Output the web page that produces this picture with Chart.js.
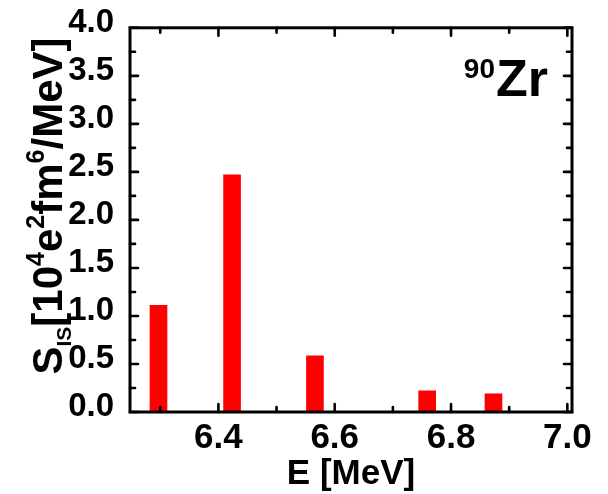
<!DOCTYPE html>
<html>
<head>
<meta charset="utf-8">
<script src="https://cdn.jsdelivr.net/npm/chart.js@4"></script>
<style>
  html, body { margin: 0; padding: 0; background: #ffffff; }
  #wrap { width: 608px; height: 494px; }
</style>
</head>
<body>
<div id="wrap"><canvas id="c" width="608" height="494"></canvas></div>
<script>
// Isoscalar strength distribution of 90Zr: excitation energy (MeV) and strength
const energies  = [6.297, 6.4235, 6.566, 6.759, 6.873];
const strengths = [1.11, 2.47, 0.585, 0.22, 0.19];

// Axis tick values
const xMajorTicks = [6.4, 6.6, 6.8, 7.0];
const xMinorTicks = [6.3, 6.5, 6.7, 6.9];
const yMajorTicks = [0.0, 0.5, 1.0, 1.5, 2.0, 2.5, 3.0, 3.5, 4.0];
const yMinorTicks = [0.25, 0.75, 1.25, 1.75, 2.25, 2.75, 3.25, 3.75];

const FONT = '"Liberation Sans", Arial, sans-serif';

// Closed frame with inward ticks on all four sides
const frameAndTicks = {
  id: 'frameAndTicks',
  afterDatasetsDraw(chart) {
    const { ctx, chartArea: a, scales: { x, y } } = chart;
    const MAJ = 8, MIN = 5;
    ctx.save();
    ctx.strokeStyle = '#000';
    ctx.lineCap = 'round';
    ctx.lineWidth = 2.6;
    const seg = (x1, y1, x2, y2) => { ctx.beginPath(); ctx.moveTo(x1, y1); ctx.lineTo(x2, y2); ctx.stroke(); };
    const xt = (vals, len) => vals.forEach(v => {
      const p = x.getPixelForValue(v);
      seg(p, a.bottom, p, a.bottom - len);
      seg(p, a.top, p, a.top + len);
    });
    const yt = (vals, len) => vals.forEach(v => {
      const p = y.getPixelForValue(v);
      seg(a.left, p, a.left + len, p);
      seg(a.right, p, a.right - len, p);
    });
    xt(xMajorTicks, MAJ); xt(xMinorTicks, MIN);
    yt(yMajorTicks, MAJ); yt(yMinorTicks, MIN);
    ctx.lineCap = 'square';
    ctx.lineWidth = 3;
    ctx.strokeRect(a.left, a.top, a.right - a.left, a.bottom - a.top);
    ctx.restore();
  }
};

// Rotated y-axis title with sub- and superscripts, plus the nucleus label
const annotations = {
  id: 'annotations',
  afterDraw(chart) {
    const { ctx } = chart;
    const BIG = 42, SUP = 25, SUB = 21;
    const parts = [
      ['S', BIG, 0], ['IS', SUB, 9], ['[10', BIG, 0], ['4', SUP, -18],
      ['e', BIG, 0], ['2', SUP, -18], ['fm', BIG, 0], ['6', SUP, -18], ['/MeV]', BIG, 0]
    ];
    ctx.save();
    ctx.fillStyle = '#000';
    ctx.textBaseline = 'alphabetic';
    ctx.textAlign = 'left';
    let total = 0;
    parts.forEach(([t, s]) => { ctx.font = `bold ${s}px ${FONT}`; total += ctx.measureText(t).width; });
    ctx.translate(62, 206 + total / 2);
    ctx.rotate(-Math.PI / 2);
    let cx = 0;
    parts.forEach(([t, s, dy]) => {
      ctx.font = `bold ${s}px ${FONT}`;
      ctx.fillText(t, cx, dy);
      cx += ctx.measureText(t).width;
    });
    ctx.restore();

    ctx.save();
    ctx.fillStyle = '#000';
    ctx.textBaseline = 'alphabetic';
    ctx.textAlign = 'right';
    ctx.font = `bold 28px ${FONT}`;
    ctx.fillText('90', 495, 78);
    ctx.textAlign = 'left';
    ctx.font = `bold 52px ${FONT}`;
    ctx.fillText('Zr', 496, 96);
    ctx.restore();
  }
};

new Chart(document.getElementById('c'), {
  type: 'bar',
  data: {
    datasets: [{
      data: energies.map((e, i) => ({ x: e, y: strengths[i] })),
      backgroundColor: '#ff0000',
      borderWidth: 0,
      barThickness: 17
    }]
  },
  options: {
    responsive: false,
    animation: false,
    devicePixelRatio: 1,
    layout: { padding: { top: 24, right: 36, left: 0, bottom: 0 } },
    plugins: { legend: { display: false }, tooltip: { enabled: false } },
    scales: {
      x: {
        type: 'linear',
        min: 6.248,
        max: 7.008,
        offset: false,
        grid: { display: false },
        border: { display: false },
        afterFit(s) { s.height = 82; },
        afterBuildTicks(s) { s.ticks = xMajorTicks.map(v => ({ value: v })); },
        ticks: {
          padding: -3,
          color: '#000',
          font: { family: FONT, size: 35, weight: 'bold' },
          maxRotation: 0,
          autoSkip: false,
          callback: v => Number(v).toFixed(1)
        },
        title: {
          display: true,
          text: 'E [MeV]',
          color: '#000',
          font: { family: FONT, size: 35, weight: 'bold', lineHeight: 1 },
          padding: { top: 0, bottom: 2 }
        }
      },
      y: {
        min: 0,
        max: 4.0,
        grid: { display: false },
        border: { display: false },
        afterFit(s) { s.width = 130; },
        afterBuildTicks(s) { s.ticks = yMajorTicks.map(v => ({ value: v })); },
        ticks: {
          padding: 8,
          labelOffset: -5,
          color: '#000',
          font: { family: FONT, size: 33, weight: 'bold' },
          autoSkip: false,
          callback: v => Number(v).toFixed(1)
        }
      }
    }
  },
  plugins: [frameAndTicks, annotations]
});
</script>
</body>
</html>
